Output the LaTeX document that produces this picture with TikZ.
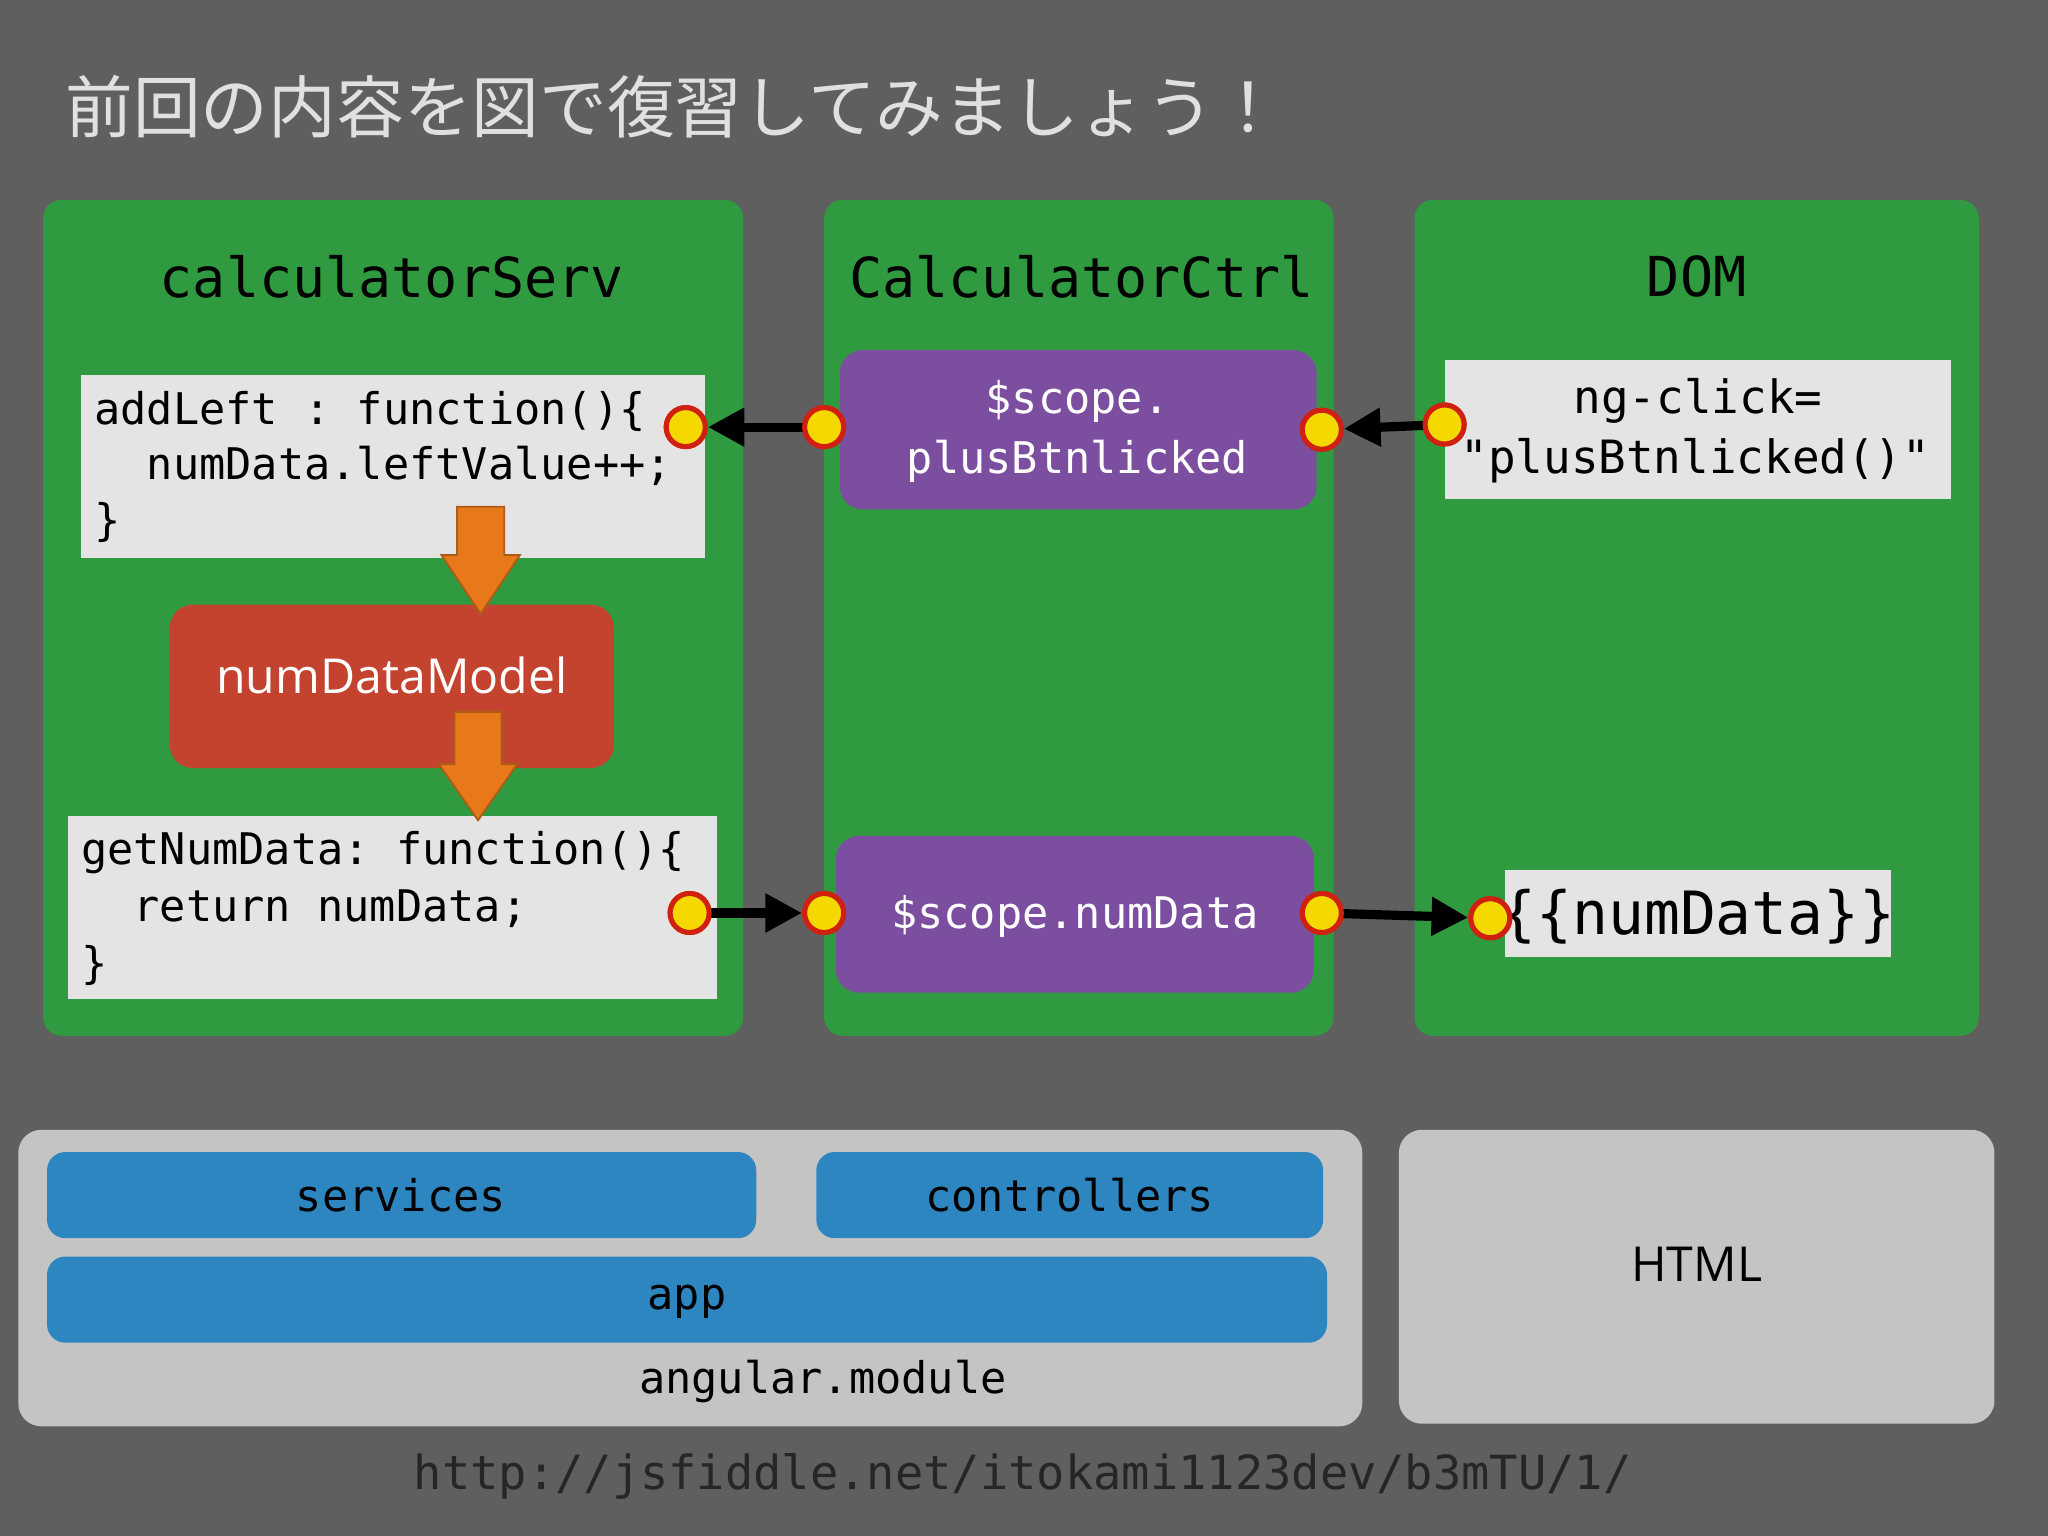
\documentclass[tikz,border=0pt]{standalone}
\usepackage{fontspec}
\setmainfont{Open Sans}
\setmonofont{DejaVu Sans Mono}
\newfontfamily\cjk{Noto Sans CJK JP}
\usetikzlibrary{arrows.meta}
\definecolor{bg}{HTML}{5F5F5F}
\definecolor{grn}{HTML}{2F9A3F}
\definecolor{codebg}{HTML}{E4E4E4}
\definecolor{redb}{HTML}{C4432F}
\definecolor{purp}{HTML}{7B4EA0}
\definecolor{blu}{HTML}{2E86C1}
\definecolor{lgray}{HTML}{C4C4C4}
\definecolor{orng}{HTML}{E8791B}
\definecolor{dotY}{HTML}{F5D800}
\definecolor{dotR}{HTML}{D02010}
\begin{document}
\begin{tikzpicture}[x=0.02cm,y=-0.02cm,
 panel/.style={fill=grn,rounded corners=8pt},
 code/.style={fill=codebg},
 ttl/.style={font=\ttfamily\fontsize{24}{28}\selectfont,text=black},
 ctext/.style={font=\ttfamily\fontsize{19}{24}\selectfont,text=black,anchor=west},
 ptext/.style={font=\ttfamily\fontsize{19}{24}\selectfont,text=white},
 dot/.style={circle,fill=dotY,draw=dotR,line width=2.2pt,minimum size=17pt,inner sep=0pt},
 conn/.style={line width=4pt,-{Triangle[length=16pt,width=16pt]}},
 blk/.style={fill=blu,rounded corners=8pt},
 barr/.style={fill=orng,draw=orng!75!black,line width=0.8pt,line join=miter}]
\fill[bg] (0,0) rectangle (1568,1176);
\useasboundingbox (0,0) rectangle (1568,1176);
\node[anchor=west,text=white!88!black,font=\cjk\fontsize{29.5}{32}\selectfont] (title) at (44,82) {前回の内容を図で復習してみましょう！};
% panels
\fill[panel] (33,153) rectangle (569,793);
\fill[panel] (631,153) rectangle (1021,793);
\fill[panel] (1083,153) rectangle (1515,793);
\node[ttl] (t1) at (300,212) {calculatorServ};
\node[ttl] (t2) at (828,212) {CalculatorCtrl};
\node[ttl] (t3) at (1299,212) {DOM};
% code boxes
\fill[code] (62,287) rectangle (540,427);
\node[ctext] (c1a) at (66,315) {addLeft : function()\{};
\node[ctext] (c1b) at (66,357) {\ \ numData.leftValue++;};
\node[ctext] (c1c) at (66,400) {\}};
\fill[code] (52,625) rectangle (549,765);
\node[ctext] (c2a) at (56,653) {getNumData: function()\{};
\node[ctext] (c2b) at (56,696) {\ \ return numData;};
\node[ctext] (c2c) at (56,739) {\}};
% model
\fill[redb,rounded corners=10pt] (130,463) rectangle (470,588);
\node[text=white,font=\fontsize{21}{24}\selectfont] (model) at (300,517) {numDataModel};
\draw[barr] (350,388) -- (386,388) -- (386,425) -- (398,425) -- (368,470) -- (338,425) -- (350,425) -- cycle;
\draw[barr] (348,545) -- (384,545) -- (384,585) -- (396,585) -- (366,628) -- (336,585) -- (348,585) -- cycle;
% purple
\fill[purp,rounded corners=10pt] (643,268) rectangle (1008,390);
\node[ptext] (p1a) at (825,307) {\$scope.};
\node[ptext] (p1b) at (825,353) {plusBtnlicked};
\fill[purp,rounded corners=10pt] (640,640) rectangle (1006,760);
\node[ptext] (p2) at (823,702) {\$scope.numData};
% DOM
\fill[code] (1106,276) rectangle (1494,382);
\node[ptext,text=black,font=\ttfamily\fontsize{20}{24}\selectfont] (d1a) at (1300,307) {ng-click=};
\node[ptext,text=black,font=\ttfamily\fontsize{20}{24}\selectfont] (d1b) at (1298,353) {"plusBtnlicked()"};
\fill[code] (1152,666) rectangle (1448,733);
\node[ttl,font=\ttfamily\fontsize{26}{30}\selectfont] (d2) at (1300,702) {\{\{numData\}\}};
% connectors
\node[dot] (o1) at (525,327) {};
\node[dot] (o2) at (631,327) {};
\node[dot] (o3) at (1012,329) {};
\node[dot] (o4) at (1106,325) {};
\node[dot] (o5) at (528,699) {};
\node[dot] (o6) at (631,699) {};
\node[dot] (o7) at (1012,699) {};
\node[dot] (o8) at (1141,703) {};
\draw[conn] (o2.center) -- (o1);
\draw[conn] (o4.center) -- (o3);
\draw[conn] (o5.center) -- (o6);
\draw[conn] (o7.center) -- (o8);
\foreach \n in {o1,o2,o3,o4,o5,o6,o7,o8} \node[dot] at (\n) {};
% bottom
\fill[lgray,rounded corners=10pt] (14,865) rectangle (1043,1092);
\fill[blk] (36,882) rectangle (579,948);
\fill[blk] (625,882) rectangle (1013,948);
\fill[blk] (36,962) rectangle (1016,1028);
\node[ptext,text=black] (sv) at (307,915) {services};
\node[ptext,text=black] (ct) at (819,915) {controllers};
\node[ptext,text=black] (ap) at (526,997) {app};
\node[ptext,text=black] (am) at (630,1058) {angular.module};
\fill[lgray,rounded corners=10pt] (1071,865) rectangle (1527,1090);
\node[font=\fontsize{21}{24}\selectfont] (html) at (1299,968) {HTML};
\node[ptext,text=black!85,font=\ttfamily\fontsize{20.5}{24}\selectfont] (url) at (783,1130) {http://jsfiddle.net/itokami1123dev/b3mTU/1/};
\end{tikzpicture}
\end{document}
